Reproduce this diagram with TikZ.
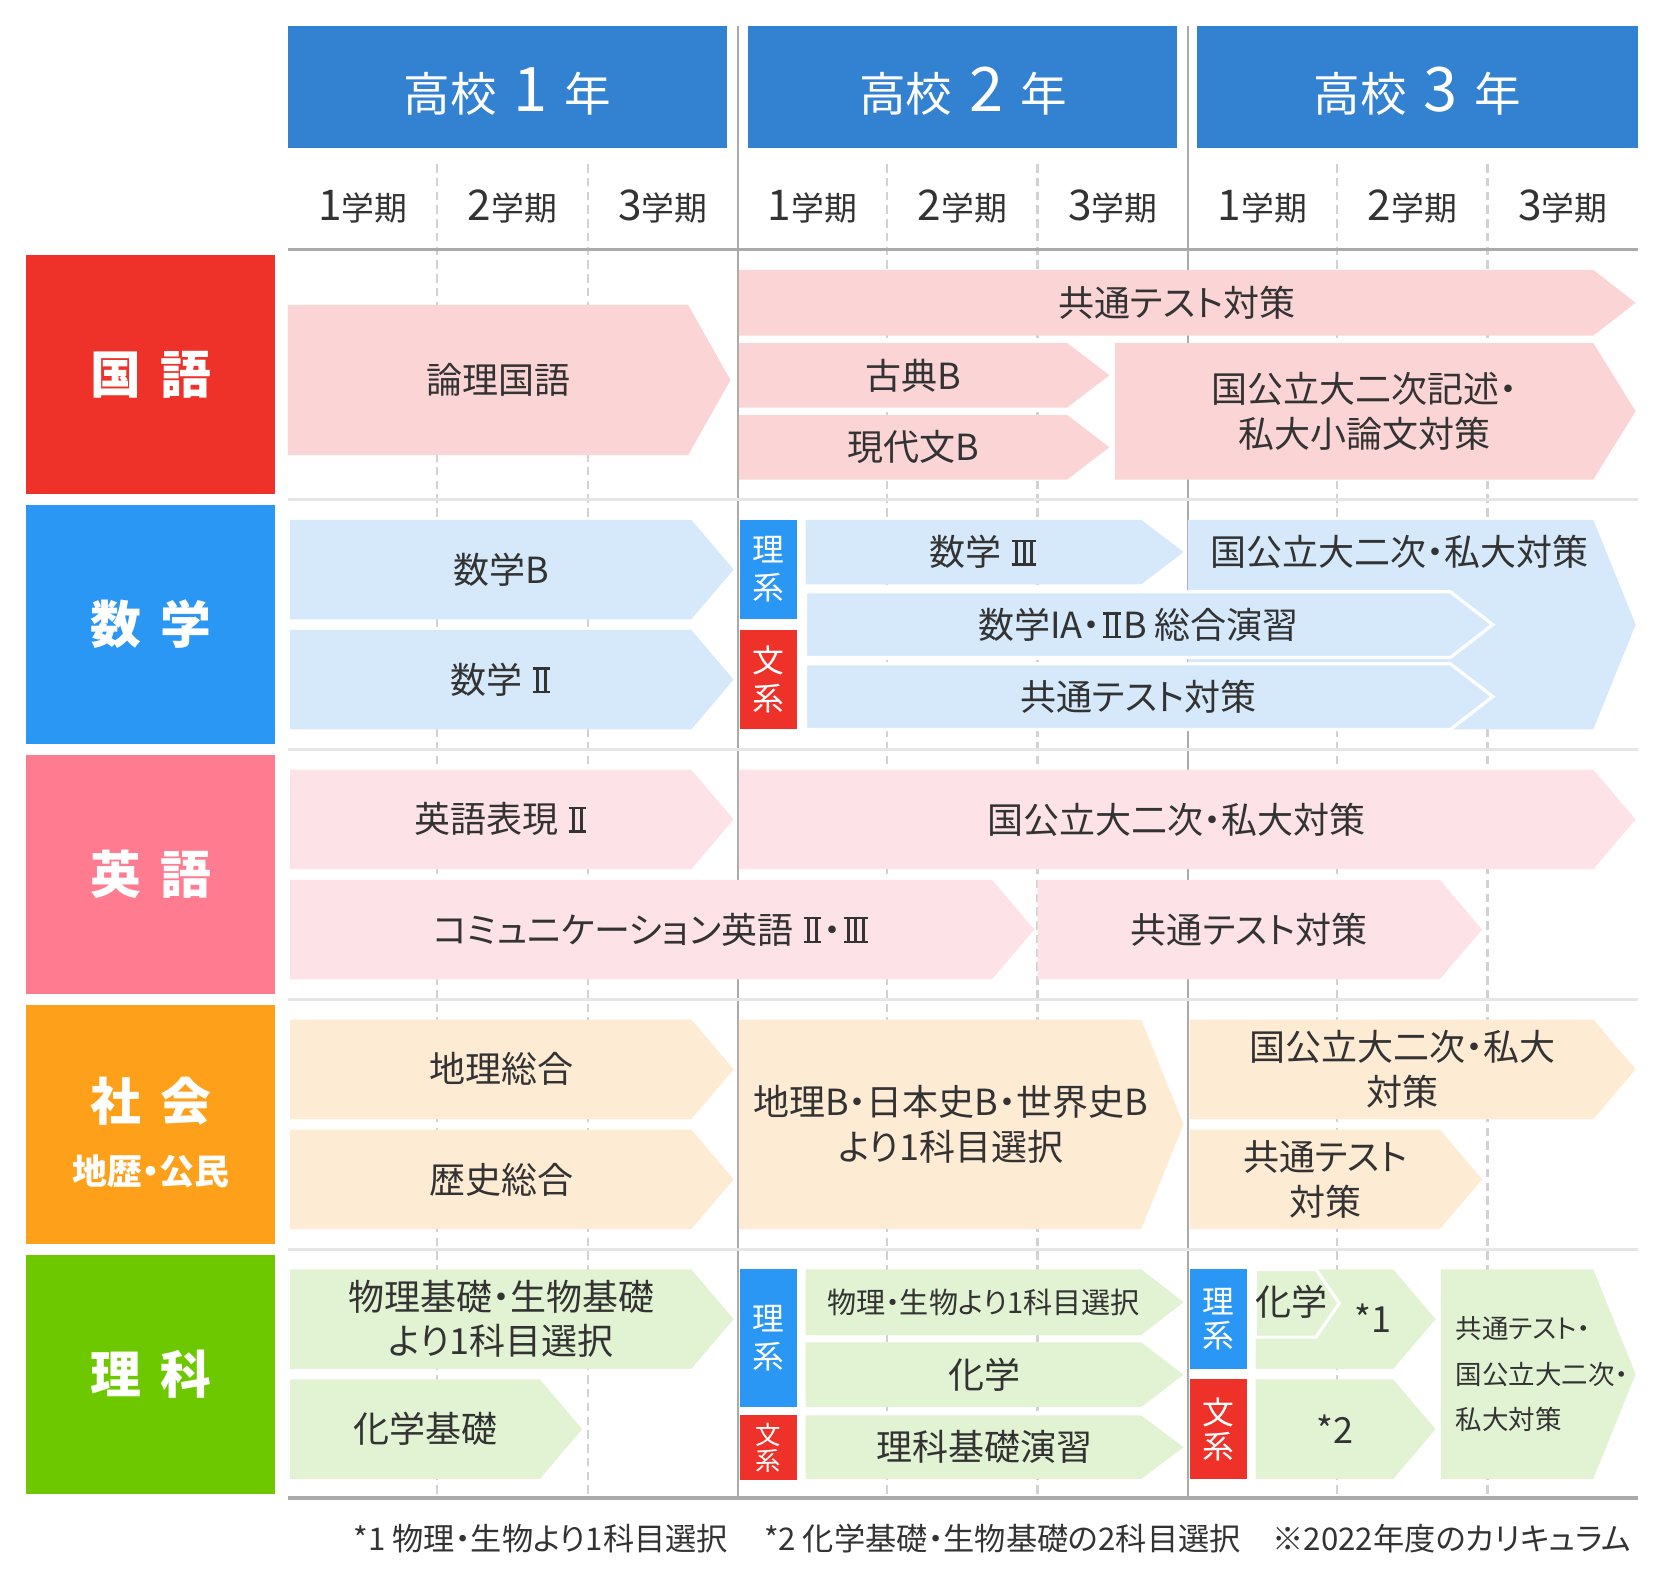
\documentclass[tikz,border=0pt]{standalone}
\usepackage{fontspec}
\setmainfont{Noto Sans CJK JP}[RawFeature=+palt]
\newcommand{\rII}{\mbox{\kern0.07em\rlap{\rule{0.48em}{0.07em}}\rlap{\raisebox{0.66em}{\rule{0.48em}{0.07em}}}\kern0.08em\rule{0.085em}{0.73em}\kern0.15em\rule{0.085em}{0.73em}\kern0.08em\kern0.07em}}
\newcommand{\rIII}{\mbox{\kern0.07em\rlap{\rule{0.655em}{0.07em}}\rlap{\raisebox{0.66em}{\rule{0.655em}{0.07em}}}\kern0.07em\rule{0.085em}{0.73em}\kern0.13em\rule{0.085em}{0.73em}\kern0.13em\rule{0.085em}{0.73em}\kern0.07em\kern0.07em}}
\definecolor{hdrblue}{HTML}{3381D1}
\definecolor{kokc}{HTML}{EE3129}
\definecolor{sugc}{HTML}{2B97F5}
\definecolor{eigc}{HTML}{FF7B8F}
\definecolor{shac}{HTML}{FFA01A}
\definecolor{rikc}{HTML}{6EC800}
\definecolor{kokl}{HTML}{FBD5D5}
\definecolor{sugl}{HTML}{D5E9FB}
\definecolor{eigl}{HTML}{FDE3E7}
\definecolor{shal}{HTML}{FDEBD4}
\definecolor{rikl}{HTML}{E2F3D3}
\definecolor{txt}{HTML}{333333}
\definecolor{gridmid}{HTML}{AAAAAA}
\definecolor{gridlight}{HTML}{E6E6E6}
\definecolor{griddash}{HTML}{D2D2D2}
\newcommand{\chevbox}[7][]{%
  \fill[#1] (#3,#5) -- ({#4-40},#5) -- (#4,{(#5+#6)/2}) -- ({#4-40},#6) -- (#3,#6) -- cycle;
  \node[lbl] (#2) at ({(#3+#4-20)/2},{(#5+#6)/2}) {#7};}
\begin{document}
\begin{tikzpicture}[x=1pt,y=-1pt,
  lbl/.style={text=txt, font=\fontsize{34}{42}\selectfont, align=center, inner sep=0pt},
  hdr/.style={fill=hdrblue, text=white, minimum width=#1, minimum height=115pt, inner sep=0pt},
  hdrtxt/.style={text=white, font=\fontsize{44}{46}\selectfont, anchor=base, inner sep=0pt},
  sem/.style={text=txt, font=\fontsize{31}{34}\selectfont, anchor=base, inner sep=0pt},
  subj/.style={text=white, font=\bfseries\fontsize{48}{52}\selectfont, minimum width=235pt, minimum height=226pt, inner sep=0pt, align=center},
  tag/.style={text=white, font=\fontsize{30}{36}\selectfont, align=center, inner sep=0pt, minimum width=54pt},
  gsolid/.style={draw=gridmid, line width=2pt},
  gline/.style={draw=gridmid, line width=3pt},
  glight/.style={draw=gridlight, line width=3pt},
  gdash/.style={draw=griddash, line width=2pt, dash pattern=on 8pt off 5pt},
  wline/.style={draw=white, line width=3pt},
  foot/.style={text=txt, font=\fontsize{29.5}{32}\selectfont, inner sep=0pt}
]
\useasboundingbox (0,0) rectangle (1568,1493);

% grid
\foreach \xx in {413,555,838,980,1263,1405} \draw[gdash] (\xx,155) -- (\xx,1415);
\draw[gsolid] (697,25) -- (697,1415);
\draw[gsolid] (1122,25) -- (1122,1415);
\draw[gline] (272,236) -- (1547,236);
\foreach \yy in {472,708,944,1180} \draw[glight] (272,\yy) -- (1547,\yy);
\draw[gline] (272,1415) -- (1547,1415);

% headers
\node[hdr=415pt] (h1) at (479.5,82.5) {};
\node[hdr=405pt] (h2) at (909.5,82.5) {};
\node[hdr=416pt] (h3) at (1339,82.5) {};
\node[hdrtxt] (h1t) at (479.5,105) {高校\hspace{16pt}{\fontsize{58}{60}\selectfont 1}\hspace{16pt}年};
\node[hdrtxt] (h2t) at (909.5,105) {高校\hspace{16pt}{\fontsize{58}{60}\selectfont 2}\hspace{16pt}年};
\node[hdrtxt] (h3t) at (1339,105) {高校\hspace{16pt}{\fontsize{58}{60}\selectfont 3}\hspace{16pt}年};

% semesters
\foreach \cx/\n [count=\i] in {342.5/1,484/2,626/3,767.5/1,909/2,1051/3,1192.5/1,1334/2,1476/3}
  \node[sem] (sem\i) at (\cx,208) {{\fontsize{40}{40}\selectfont \n}学期};

% subject boxes
\node[subj, fill=kokc] (kok) at (142.5,354) {国\hspace{18pt}語};
\node[subj, fill=sugc] (sug) at (142.5,590) {数\hspace{18pt}学};
\node[subj, fill=eigc] (eig) at (142.5,826) {英\hspace{18pt}語};
\node[subj, fill=shac] (sha) at (142.5,1062) {};
\node[text=white, font=\bfseries\fontsize{48}{52}\selectfont, inner sep=0pt] (shat) at (142.5,1040) {社\hspace{18pt}会};
\node[text=white, font=\bfseries\fontsize{33}{36}\selectfont, inner sep=0pt] (shas) at (142.5,1106) {地歴・公民};
\node[subj, fill=rikc] (rik) at (142.5,1298) {理\hspace{18pt}科};

% 国語
\chevbox[fill=kokl]{ronri}{272}{690}{288}{430}{論理国語}
\chevbox[fill=kokl]{kkyo}{698}{1545}{255}{317}{共通テスト対策}
\chevbox[fill=kokl]{koten}{698}{1048}{324}{385}{古典B}
\chevbox[fill=kokl]{gendai}{698}{1048}{392}{453}{現代文B}
\chevbox[fill=kokl]{kniji}{1053}{1545}{324}{453}{国公立大二次記述・\\私大小論文対策}

% 数学
\chevbox[fill=sugl]{sb}{274}{693}{491}{585}{数学B}
\chevbox[fill=sugl]{s2}{274}{693}{595}{689}{数学 \rII}
\fill[sugl] (1122,491) -- (1505,491) -- (1545,590) -- (1505,689) -- (1122,689) -- cycle;
\node[lbl] (sniji) at (1322,521) {国公立大二次・私大対策};
\chevbox[fill=sugl]{s3}{761}{1118}{491}{552}{数学 \rIII}
\chevbox[fill=sugl, wline]{sia}{761}{1410}{559}{621}{数学IA・\rII B 総合演習}
\chevbox[fill=sugl, wline]{skyo}{761}{1410}{627}{689}{共通テスト対策}
\node[tag, fill=sugc, minimum height=94pt] (srk) at (726,538) {理\\系};
\node[tag, fill=kokc, minimum height=94pt] (sbk) at (726,642) {文\\系};

% 英語
\chevbox[fill=eigl]{ehyo}{274}{693}{727}{821}{英語表現 \rII}
\chevbox[fill=eigl]{eniji}{698}{1545}{727}{821}{国公立大二次・私大対策}
\chevbox[fill=eigl]{ecom}{274}{977}{831}{925}{コミュニケーション英語 \rII・\rIII}
\chevbox[fill=eigl]{ekyo}{980}{1400}{831}{925}{共通テスト対策}

% 社会
\chevbox[fill=shal]{chiri}{274}{693}{963}{1057}{地理総合}
\chevbox[fill=shal]{reki}{274}{693}{1067}{1161}{歴史総合}
\chevbox[fill=shal]{chirib}{698}{1118}{963}{1161}{地理B・日本史B・世界史B\\より1科目選択}
\chevbox[fill=shal]{shniji}{1124}{1545}{963}{1057}{国公立大二次・私大\\対策}
\chevbox[fill=shal]{shkyo}{1124}{1400}{1067}{1161}{共通テスト\\対策}

% 理科
\chevbox[fill=rikl]{bk}{274}{693}{1199}{1293}{物理基礎・生物基礎\\より1科目選択}
\chevbox[fill=rikl]{kk}{274}{550}{1303}{1397}{化学基礎}
\node[tag, fill=sugc, minimum height=130pt] (rrk2) at (726,1264) {理\\系};
\node[tag, fill=kokc, minimum height=61pt, font=\fontsize{24}{25}\selectfont] (rbk2) at (726,1367.5) {文\\系};
\fill[rikl] (761,1199) -- (1078,1199) -- (1118,1230) -- (1078,1261) -- (761,1261) -- cycle;
\node[lbl, font=\fontsize{27.5}{34}\selectfont] (bs) at (929,1230) {物理・生物より1科目選択};
\chevbox[fill=rikl]{kag}{761}{1118}{1268}{1329}{化学}
\chevbox[fill=rikl]{rkk}{761}{1118}{1337}{1397}{理科基礎演習}
\node[tag, fill=sugc, minimum height=94pt, font=\fontsize{30}{32}\selectfont] (rrk3) at (1151,1246) {理\\系};
\node[tag, fill=kokc, minimum height=94pt, font=\fontsize{30}{32}\selectfont] (rbk3) at (1151,1350) {文\\系};
\fill[rikl] (1186,1199) -- (1316,1199) -- (1356,1246) -- (1316,1293) -- (1186,1293) -- cycle;
\node[lbl] (a1) at (1297,1245) {*1};
\fill[rikl, wline] (1186,1199) -- (1243,1199) -- (1265,1231) -- (1243,1263) -- (1186,1263) -- cycle;
\node[lbl] (kag3) at (1220,1230) {化学};
\chevbox[fill=rikl]{a2}{1186}{1356}{1303}{1397}{*2}
\fill[rikl] (1361,1199) -- (1505,1199) -- (1545,1298) -- (1505,1397) -- (1361,1397) -- cycle;
\node[lbl, align=left, anchor=west, font=\fontsize{25}{43}\selectfont] (rfin) at (1375,1298) {共通テスト・\\国公立大二次・\\私大対策};

% footnote
\node[foot, anchor=east] (fn) at (1541,1453) {*1 物理・生物より1科目選択\hspace{34pt}*2 化学基礎・生物基礎の2科目選択\hspace{30pt}※2022年度のカリキュラム};
\end{tikzpicture}
\end{document}
